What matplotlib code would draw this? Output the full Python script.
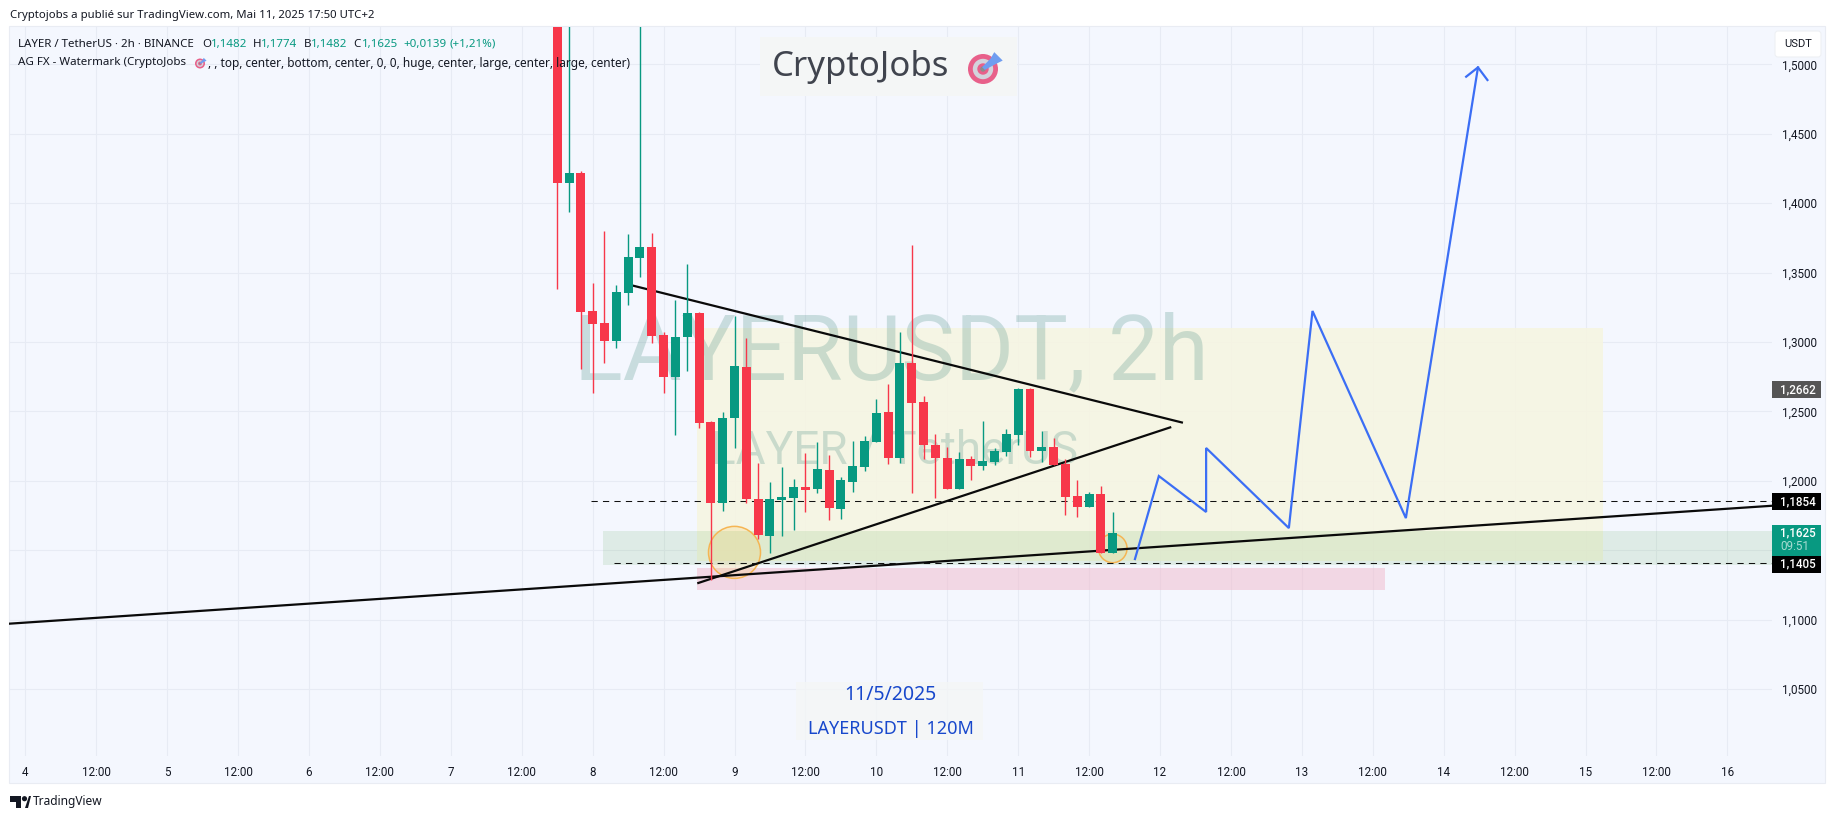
import numpy as np
import matplotlib
matplotlib.use("Agg")
from matplotlib import pyplot as plt
from matplotlib.patches import Rectangle, Circle, Ellipse, Polygon, FancyBboxPatch
from matplotlib.transforms import Affine2D

plt.rcParams['font.family'] = ['Noto Sans', 'DejaVu Sans']

# 2h candles, index 0 = May 4 00:00
candle_idx = list(range(45, 93))
opens = [1.62, 1.4147, 1.4217, 1.3223, 1.3136, 1.3009, 1.3354, 1.3607, 1.3684, 1.3050, 1.2749, 1.3038,
         1.3208, 1.2423, 1.1842, 1.2454, 1.2819, 1.1868, 1.1602, 1.1861, 1.1876, 1.1955, 1.1940, 1.2077,
         1.1796, 1.1991, 1.2099, 1.2281, 1.2495, 1.2166, 1.2848, 1.2567, 1.2257, 1.2164, 1.1940, 1.2156,
         1.2108, 1.2137, 1.2207, 1.2329, 1.2661, 1.2214, 1.2243, 1.2120, 1.1890, 1.1811, 1.1904, 1.1482]
highs = [1.64, 1.62, 1.4231, 1.3424, 1.3799, 1.3410, 1.3777, 1.60, 1.3785, 1.3071, 1.3302, 1.3561,
         1.3215, 1.2430, 1.2495, 1.3187, 1.3028, 1.2126, 1.1991, 1.2099, 1.2012, 1.2200, 1.2279, 1.2185,
         1.2027, 1.2286, 1.2322, 1.2589, 1.2697, 1.3071, 1.3698, 1.2610, 1.2337, 1.2243, 1.2207, 1.2178,
         1.2430, 1.2236, 1.2373, 1.2668, 1.2668, 1.2358, 1.2308, 1.2156, 1.2005, 1.1919, 1.1962, 1.1774]
lows = [1.3381, 1.3938, 1.2807, 1.2634, 1.2850, 1.2958, 1.3268, 1.3470, 1.2994, 1.2634, 1.2332, 1.2793,
        1.2382, 1.1285, 1.1784, 1.2236, 1.1842, 1.1580, 1.1481, 1.1602, 1.1645, 1.1775, 1.1911, 1.1717,
        1.1724, 1.1919, 1.2073, 1.2281, 1.2123, 1.2128, 1.1914, 1.2159, 1.1878, 1.1940, 1.1940, 1.2005,
        1.2079, 1.2115, 1.2178, 1.2257, 1.2171, 1.2135, 1.2113, 1.1753, 1.1739, 1.1811, 1.1482, 1.1482]
closes = [1.4147, 1.4217, 1.3218, 1.3131, 1.3009, 1.3359, 1.3612, 1.3684, 1.3045, 1.2749, 1.3035, 1.3208,
          1.2418, 1.1842, 1.2452, 1.2826, 1.1866, 1.1609, 1.1868, 1.1883, 1.1955, 1.1933, 1.2084, 1.1804,
          1.2005, 1.2106, 1.2286, 1.2488, 1.2166, 1.2848, 1.2562, 1.2257, 1.2166, 1.1940, 1.2156, 1.2108,
          1.2142, 1.2214, 1.2337, 1.2661, 1.2214, 1.2243, 1.2113, 1.1883, 1.1811, 1.1904, 1.1482, 1.1625]

price_ticks = [1.05, 1.10, 1.15, 1.20, 1.25, 1.30, 1.35, 1.40, 1.45, 1.50]
hidden_price_label = 1.15  # sits under the price tags
time_ticks = list(range(0, 145, 6))
time_labels = ['4', '12:00', '5', '12:00', '6', '12:00', '7', '12:00', '8', '12:00', '9', '12:00', '10',
               '12:00', '11', '12:00', '12', '12:00', '13', '12:00', '14', '12:00', '15', '12:00', '16']

# drawings
long_line_x = [-1.4, 147.8]
long_line_y = [1.0970, 1.1820]
tri_top_x = [51.3, 97.94]
tri_top_y = [1.3408, 1.2418]
tri_low_x = [56.85, 96.95]
tri_low_y = [1.1261, 1.2387]
path_x = [93.88, 95.9, 99.9, 99.9, 106.9, 108.9, 116.8, 122.9]
path_y = [1.1436, 1.2034, 1.1775, 1.2236, 1.1659, 1.3223, 1.1731, 1.4978]
head_x = [121.9, 122.9, 123.7]
head_y = [1.4911, 1.4978, 1.4887]
dash_levels = [1.1854, 1.1405]
dash_starts = [47.9, 49.8]
tag_levels = [1.2662, 1.1854, 1.1625, 1.1405]

GREEN = '#089981'
RED = '#f7374a'
GRID = '#e7ebf4'
PANEL = '#f4f7fe'
TEXT = '#131722'
BLUE = '#3b6ef5'

W, H = 1835, 819
fig = plt.figure(figsize=(W / 100, H / 100), dpi=100, facecolor='white')
px = Affine2D().scale(1 / W, -1 / H).translate(0, 1) + fig.transFigure

fig.add_artist(Rectangle((9, 26), 1816, 757, transform=px, fc=PANEL, ec='#e9ecf3', lw=0.8, zorder=-2))

left, right, top, bottom = 9, 1772, 27, 756
ax = fig.add_axes([left / W, 1 - bottom / H, (right - left) / W, (bottom - top) / H])
ax.patch.set_visible(False)
ax.set_xlim((left - 25.3) / 11.82, (right - 25.3) / 11.82)
ax.set_ylim(1.0017, 1.5269)
for s in ax.spines.values():
    s.set_visible(False)

ax.yaxis.tick_right()
ax.set_yticks(price_ticks)
ax.set_yticklabels(['' if p == hidden_price_label else f'{p:.4f}'.replace('.', ',') for p in price_ticks],
                   fontsize=8.4, color=TEXT, family='Roboto')
ax.set_xticks(time_ticks)
ax.set_xticklabels(time_labels, fontsize=8.4, color=TEXT, family='Roboto')
ax.tick_params(axis='both', length=0)
ax.tick_params(axis='y', pad=7)
ax.tick_params(axis='x', pad=7)
ax.grid(True, color=GRID, lw=0.8)
ax.set_axisbelow(True)

# zones
ax.add_patch(Rectangle((56.85, 1.1421), 76.65, 0.1677, fc='#f6f5e2', alpha=0.9, ec='none', zorder=1.1))
ax.add_patch(Rectangle((48.9, 1.1393), 110, 0.0245, fc='#4da145', alpha=0.13, ec='none', zorder=1.2))
ax.add_patch(Rectangle((56.85, 1.1215), 58.15, 0.0156, fc='#f2b8cb', alpha=0.5, ec='none', zorder=1.3))

# big watermark
ax.text(73.3, 1.2733, 'LAYERUSDT, 2h', fontsize=65, family='Roboto', color='#488c82', alpha=0.25,
        ha='center', va='baseline', zorder=1.5)
ax.text(73.5, 1.2120, 'LAYER / TetherUS', fontsize=33, family='Roboto', color='#488c82', alpha=0.25,
        ha='center', va='baseline', zorder=1.5)

# circles
ax.add_patch(Ellipse((60, 1.1484), 4.4, 0.03746, fc='#f5c242', alpha=0.18, ec='none', zorder=2))
ax.add_patch(Ellipse((60, 1.1484), 4.4, 0.03746, fc='none', ec='#f5b553', lw=1.1, zorder=2))
ax.add_patch(Ellipse((92, 1.1513), 2.42, 0.0206, fc='#f5c242', alpha=0.12, ec='none', zorder=2))
ax.add_patch(Ellipse((92, 1.1513), 2.42, 0.0206, fc='none', ec='#f5b553', lw=1.1, zorder=2))

# lines under the candles
for xs, ys in [(long_line_x, long_line_y), (tri_top_x, tri_top_y), (tri_low_x, tri_low_y)]:
    ax.plot(xs, ys, color='#0a0a0a', lw=1.6, zorder=3, solid_capstyle='butt')
for lvl, start in zip(dash_levels, dash_starts):
    ax.plot([start, 147.8], [lvl, lvl], color='#111111', lw=0.75, ls=(0, (6, 5)), zorder=3)

# candles
o = np.array(opens)
c = np.array(closes)
up = c >= o
colors = [GREEN if u else RED for u in up]
ax.vlines(candle_idx, lows, highs, colors=colors, lw=1.0, zorder=4)
ax.bar(candle_idx, np.abs(c - o), bottom=np.minimum(o, c), width=0.76, color=colors, zorder=4.5)

ax.plot(path_x, path_y, color=BLUE, lw=1.6, zorder=5, solid_joinstyle='miter')
ax.plot(head_x, head_y, color=BLUE, lw=1.6, zorder=5)

# price tags on the scale
tag_boxes = [(381, 16.7, '#555555'), (493, 16.7, '#000000'), (525, 30.7, GREEN), (555.7, 17, '#000000')]
for (ty, th, col) in tag_boxes:
    fig.add_artist(Rectangle((1772, ty), 49, th, transform=px, fc=col, ec='none', zorder=4))
tag_rows = [(389.5, 0), (501.5, 1), (532.7, 2), (564, 3)]
for ty, i in tag_rows:
    fig.text(1816, ty, f'{tag_levels[i]:.4f}'.replace('.', ','), transform=px, color='white', fontsize=8.4,
             family='Roboto', ha='right', va='center', fontweight='medium', zorder=5)
fig.text(1809, 546.7, '09:51', transform=px, color='#a8dcd2', fontsize=8.4, family='Roboto', ha='right', va='center', zorder=5)

# USDT button
fig.add_artist(FancyBboxPatch((1778, 34), 40, 20, boxstyle='round,pad=3', transform=px, fc='white', ec='#eef0f4', lw=0.8, zorder=4))
fig.text(1798, 44, 'USDT', transform=px, color=TEXT, fontsize=8, family='Roboto', ha='center', va='center', zorder=5)


def target(cx, cy, r):
    # the little dart emoji
    fig.add_artist(Circle((cx, cy), r, transform=px, fc='#e8608a', ec='none', zorder=5))
    fig.add_artist(Circle((cx, cy), r * 0.68, transform=px, fc='#d3d3dc', ec='none', zorder=5))
    fig.add_artist(Circle((cx, cy), r * 0.38, transform=px, fc='#e8608a', ec='none', zorder=5))
    fig.add_artist(Circle((cx, cy), r * 0.18, transform=px, fc='#8c8c8c', ec='none', zorder=5))
    s = r / 16
    fig.add_artist(Polygon([(cx - 1 * s, cy - 2 * s), (cx + 8 * s, cy - 11 * s), (cx + 12 * s, cy - 18 * s), (cx + 21 * s, cy - 9 * s),
                            (cx + 13 * s, cy - 5 * s), (cx + 2 * s, cy + 1 * s)], transform=px, fc='#6f9df0', ec='none', zorder=5))


# watermark top
fig.add_artist(Rectangle((760, 37), 257, 59, transform=px, fc='#f4f6f6', ec='none', zorder=3))
fig.text(861, 67, 'CryptoJobs', transform=px, color='#40444e', fontsize=25, ha='center', va='center', zorder=5)
target(983, 69, 15)

# date box
fig.add_artist(Rectangle((796, 682), 187, 58, transform=px, fc='#f4f6f6', alpha=0.8, ec='none', zorder=3))
fig.text(890, 695, '11/5/2025', transform=px, color='#1848cc', fontsize=14, ha='center', va='center', zorder=5)
fig.text(891, 729, 'LAYERUSDT | 120M', transform=px, color='#1848cc', fontsize=13, ha='center', va='center', zorder=5)

# header and legend
fig.text(10, 15.5, 'Cryptojobs a publié sur TradingView.com, Mai 11, 2025 17:50 UTC+2', transform=px, color=TEXT,
         fontsize=8.2, ha='left', va='center')
legend_parts = [(18, 'LAYER / TetherUS · 2h · BINANCE', TEXT), (202, 'O', TEXT), (211, '1,1482', GREEN),
                (253, 'H', TEXT), (261, '1,1774', GREEN), (303.6, 'B', TEXT), (311, '1,1482', GREEN),
                (353.6, 'C', TEXT), (361.6, '1,1625', GREEN), (403.6, '+0,0139', GREEN), (449, '(+1,21%)', GREEN)]
for lx, txt, col in legend_parts:
    fig.text(lx, 44.5, txt, transform=px, color=col, fontsize=8.3, ha='left', va='center', zorder=6)
fig.text(18, 63, 'AG FX - Watermark (CryptoJobs', transform=px, color=TEXT, fontsize=8.3, ha='left', va='center', zorder=6)
target(200, 63.5, 5)
fig.text(208, 63, ', , top, center, bottom, center, 0, 0, huge, center, large, center, large, center)', transform=px,
         color=TEXT, fontsize=8.55, ha='left', va='center', zorder=6)

# TradingView logo
fig.add_artist(Polygon([(10, 796), (21, 796), (21, 808), (15.5, 808), (15.5, 801.5), (10, 801.5)], transform=px, fc='#131722', ec='none'))
fig.add_artist(Circle((24.5, 798.7), 2.6, transform=px, fc='#131722', ec='none'))
fig.add_artist(Polygon([(25, 808), (29, 796), (31, 796), (31, 796), (28, 808)], transform=px, fc='#131722', ec='none'))
fig.text(33, 802, 'TradingView', transform=px, color=TEXT, fontsize=8.6, ha='left', va='center')

fig.savefig('out.png', dpi=100)
